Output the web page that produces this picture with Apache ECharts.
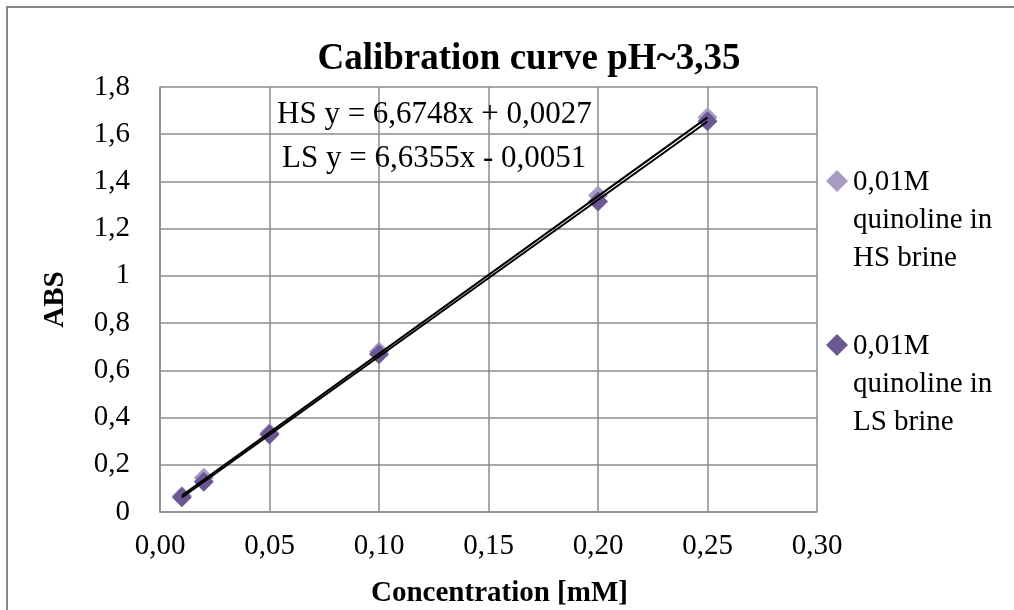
<!DOCTYPE html>
<html>
<head>
<meta charset="utf-8">
<script src="https://cdn.jsdelivr.net/npm/echarts@6/dist/echarts.min.js"></script>
<style>
html,body{margin:0;padding:0;background:#fff;}
#c{width:1014px;height:610px;}
</style>
</head>
<body>
<div id="c"></div>
<script>
// ---- data ----
const concentrations = [0.01, 0.02, 0.05, 0.10, 0.20, 0.25];
const absHS = [0.068, 0.145, 0.335, 0.680, 1.340, 1.672];
const absLS = [0.063, 0.128, 0.328, 0.668, 1.315, 1.655];
// trendline endpoints (from equations shown on chart)
const trendHS = [[0.01, 0.0694], [0.25, 1.6714]];
const trendLS = [[0.01, 0.0613], [0.25, 1.6538]];
const xTickLabels = ['0,00', '0,05', '0,10', '0,15', '0,20', '0,25', '0,30'];
const yTickLabels = ['0', '0,2', '0,4', '0,6', '0,8', '1', '1,2', '1,4', '1,6', '1,8'];
const seriesNames = ['0,01M\nquinoline in\nHS brine', '0,01M\nquinoline in\nLS brine'];
const equations = ['HS y = 6,6748x + 0,0027', 'LS y = 6,6355x - 0,0051'];
const titleText = 'Calibration curve pH~3,35';
const xName = 'Concentration [mM]';
const yName = 'ABS';

const FONT = '"Liberation Serif", "Times New Roman", serif';
const colHS = '#a99bc2';
const colLS = '#6c5793';
const gridCol = '#8c8c8c';

const chart = echarts.init(document.getElementById('c'), null, {renderer: 'canvas'});
const legendIcon = 'path://M11,7 L22,18 L11,29 L0,18 Z M0,0 L0,0 M22,114 L22,114';

chart.setOption({
  animation: false,
  backgroundColor: '#fff',
  title: {
    text: titleText,
    left: 524, top: 36, textAlign: 'center',
    textStyle: {fontFamily: FONT, fontWeight: 'bold', fontSize: 37, color: '#000'}
  },
  grid: {left: 160, top: 87, width: 657, height: 425, containLabel: false, outerBoundsMode: 'none'},
  legend: {
    orient: 'vertical',
    left: 821, top: 158,
    itemWidth: 22, itemHeight: 114, itemGap: 50,
    data: seriesNames.map(n => ({name: n, icon: legendIcon})),
    textStyle: {fontFamily: FONT, fontSize: 29, color: '#000', lineHeight: 38},
    selectedMode: false
  },
  xAxis: {
    type: 'value', min: 0, max: 0.3, interval: 0.05,
    name: xName, nameLocation: 'middle', nameGap: 67,
    nameTextStyle: {fontFamily: FONT, fontWeight: 'bold', fontSize: 29, color: '#000', padding: [0, 0, 0, 22]},
    axisLine: {show: true, lineStyle: {color: gridCol, width: 1.5}},
    axisTick: {show: false},
    axisLabel: {
      margin: 20, fontFamily: FONT, fontSize: 29, color: '#000',
      formatter: v => xTickLabels[Math.round(v / 0.05)]
    },
    splitLine: {show: true, lineStyle: {color: gridCol, width: 1.5}}
  },
  yAxis: {
    type: 'value', min: 0, max: 1.8, interval: 0.2,
    name: yName, nameLocation: 'middle', nameGap: 90, nameRotate: 90,
    nameTextStyle: {fontFamily: FONT, fontWeight: 'bold', fontSize: 29, color: '#000'},
    axisLine: {show: true, lineStyle: {color: gridCol, width: 1.5}},
    axisTick: {show: false},
    axisLabel: {
      margin: 30, fontFamily: FONT, fontSize: 29, color: '#000',
      formatter: v => yTickLabels[Math.round(v / 0.2)]
    },
    splitLine: {show: true, lineStyle: {color: gridCol, width: 1.5}}
  },
  series: [
    {
      name: seriesNames[0], type: 'scatter', symbol: 'diamond', symbolSize: 20,
      itemStyle: {color: colHS, opacity: 1},
      data: concentrations.map((x, i) => [x, absHS[i]]), z: 2
    },
    {
      name: seriesNames[1], type: 'scatter', symbol: 'diamond', symbolSize: 20,
      itemStyle: {color: colLS, opacity: 1},
      data: concentrations.map((x, i) => [x, absLS[i]]), z: 3
    },
    {
      type: 'line', data: trendHS, showSymbol: false, symbol: 'none',
      lineStyle: {color: '#000', width: 2}, z: 5, silent: true
    },
    {
      type: 'line', data: trendLS, showSymbol: false, symbol: 'none',
      lineStyle: {color: '#000', width: 2}, z: 5, silent: true
    }
  ],
  graphic: [
    {
      type: 'rect', silent: true, z: -10,
      shape: {x: 7, y: 7, width: 1100, height: 700},
      style: {fill: 'none', stroke: '#878787', lineWidth: 2}
    },
    {
      type: 'text', left: 277, top: 99, z: 10,
      style: {text: equations[0], font: '31px ' + FONT, fill: '#000'}
    },
    {
      type: 'text', left: 282, top: 143, z: 10,
      style: {text: equations[1], font: '31px ' + FONT, fill: '#000'}
    }
  ]
});
</script>
</body>
</html>
